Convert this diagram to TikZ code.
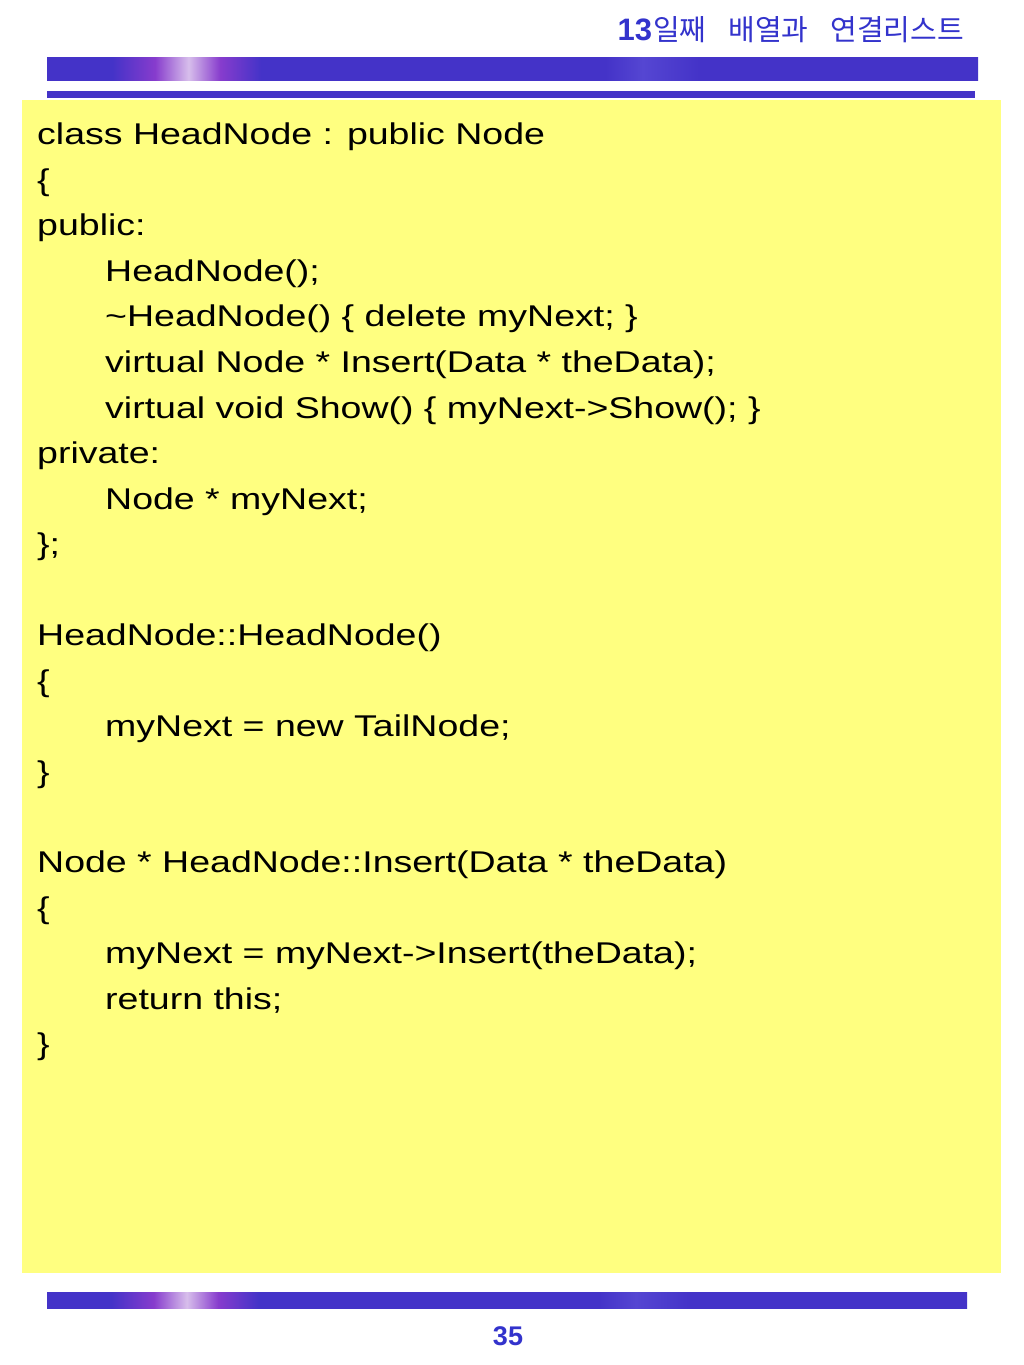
\documentclass[tikz,border=0pt]{standalone}
\usepackage{fontspec}
\setmainfont{Liberation Sans}[FakeStretch=1.25]
\newfontfamily\titlesans{Liberation Sans}
\newfontfamily\krfont{Noto Sans CJK KR}
\definecolor{titleblue}{RGB}{51,51,204}
\definecolor{barblue}{RGB}{68,51,200}
\definecolor{barpurple}{RGB}{135,60,205}
\definecolor{barlight}{RGB}{215,190,235}
\definecolor{barmid}{RGB}{85,70,210}
\definecolor{codeyellow}{RGB}{255,255,128}
\pgfdeclarehorizontalshading{barshade}{100bp}{
  color(0bp)=(barblue);
  color(25bp)=(barblue);
  color(28.5bp)=(barblue);
  color(30.8bp)=(barpurple);
  color(32.6bp)=(barlight);
  color(34.3bp)=(barpurple);
  color(36.5bp)=(barblue);
  color(55bp)=(barblue);
  color(57bp)=(barmid);
  color(60bp)=(barblue);
  color(75bp)=(barblue);
  color(100bp)=(barblue)}
\tikzset{
  codeline/.style={anchor=base west, inner sep=0pt, font=\fontsize{30}{36}\selectfont, text=black},
  bar/.style={shading=barshade, shading angle=0},
  bluelabel/.style={inner sep=0pt, text=titleblue},
}
\begin{document}
\begin{tikzpicture}[x=1pt,y=-1pt]
\useasboundingbox[fill=white] (0,0) rectangle (1024,1365);
% title
\node[bluelabel, anchor=base east] (title) at (964,40) {{\titlesans\fontsize{31}{34}\selectfont\bfseries 13}{\krfont\fontsize{29}{32}\selectfont\hspace{1pt}일째\hspace{22pt}배열과\hspace{22pt}연결리스트}};
% top bars
\shade[bar] (47,57) rectangle (978,80);
\fill[barblue] (47,91) rectangle (975,98);
% yellow box
\fill[codeyellow] (22,100) rectangle (1001,1273);
% bottom bar
\shade[bar] (47,1292) rectangle (967,1308);
% page number
\node[bluelabel, anchor=base, font=\titlesans\fontsize{27}{30}\selectfont\bfseries] (page) at (508,1345) {35};
% code
\def\lx{37}
\def\ix{105}
\node[codeline] (l1) at (\lx,144) {class HeadNode : public Node};
\node[codeline] (l2) at (\lx,190) {\{};
\node[codeline] (l3) at (\lx,235) {public:};
\node[codeline] (l4) at (\ix,281) {HeadNode();};
\node[codeline] (l5) at (\ix,326) {\textasciitilde HeadNode() \{ delete myNext; \}};
\node[codeline] (l6) at (\ix,372) {virtual Node * Insert(Data * theData);};
\node[codeline] (l7) at (\ix,418) {virtual void Show() \{ myNext->Show(); \}};
\node[codeline] (l8) at (\lx,463) {private:};
\node[codeline] (l9) at (\ix,509) {Node * myNext;};
\node[codeline] (l10) at (\lx,554) {\};};
\node[codeline] (l11) at (\lx,645) {HeadNode::HeadNode()};
\node[codeline] (l12) at (\lx,691) {\{};
\node[codeline] (l13) at (\ix,736) {myNext = new TailNode;};
\node[codeline] (l14) at (\lx,782) {\}};
\node[codeline] (l15) at (\lx,872) {Node * HeadNode::Insert(Data * theData)};
\node[codeline] (l16) at (\lx,918) {\{};
\node[codeline] (l17) at (\ix,963) {myNext = myNext->Insert(theData);};
\node[codeline] (l18) at (\ix,1009) {return this;};
\node[codeline] (l19) at (\lx,1054) {\}};
\end{tikzpicture}
\end{document}
